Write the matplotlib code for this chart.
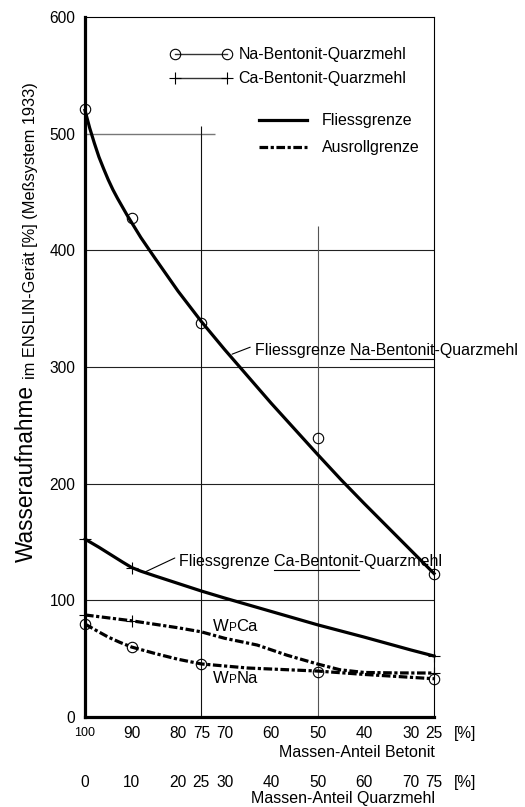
import numpy as np
import matplotlib
matplotlib.use("Agg")
import matplotlib.pyplot as plt
from matplotlib.lines import Line2D

plt.rcParams['font.family'] = ['Liberation Sans', 'DejaVu Sans']

# Quarzmehl share [%] and water uptake [%] of the measured samples
quarz_pts = [0, 10, 25, 50, 75]
na_fliess_pts = [521, 428, 338, 239, 122.5]
na_roll_pts = [79.7, 60, 45.5, 38.6, 32.6]
ca_pts_x = [0, 10, 75]
ca_fliess_pts = [152.5, 128, 52.3]
ca_roll_pts = [87.5, 82.5, 37.7]

# hand-drawn trend curves through the measurements
na_fliess_x = [0, 1, 2, 3, 4, 5, 6, 7, 8, 9, 10, 12, 15, 20, 25, 30, 35, 40, 45, 50, 55, 60, 65, 70, 75]
na_fliess_y = [520, 505, 492, 480, 470, 460.5, 452, 444.5, 437.5, 430.5, 424, 411, 393.5, 365, 339,
               315, 292, 269, 247, 225, 203.5, 183, 163, 143, 123]
ca_fliess_x = [0, 3, 6, 8, 10, 12, 15, 20, 25, 30, 40, 50, 60, 70, 75]
ca_fliess_y = [152.5, 145.5, 138, 133, 128.2, 125, 121, 114.5, 108, 102, 90.5, 79, 68.5, 57.5, 52.3]
ca_roll_x = [0, 5, 10, 15, 20, 25, 30, 37, 43.4, 50, 54.8, 60, 67, 75]
ca_roll_y = [87.5, 85, 82.5, 79.5, 76.5, 73, 67.5, 61.7, 53, 45.4, 40.5, 38.2, 37.8, 37.7]
na_roll_x = [0, 2.5, 5, 7.5, 10, 15, 20, 25, 35, 50, 60, 75]
na_roll_y = [79.7, 74, 68.5, 64, 60, 54.5, 49.5, 45.5, 42, 39.4, 36.5, 32.8]

y_ticks = [0, 100, 200, 300, 400, 500, 600]
quarz_ticks = [0, 10, 20, 25, 30, 40, 50, 60, 70, 75]
beton_ticks = [100 - q for q in quarz_ticks]

dashdot = (0, (2.7, 0.8, 1.0, 0.8))
fs = 11.5

fig = plt.figure(figsize=(5.25, 8.07), dpi=100)
ax = fig.add_axes([0.1619, 0.1115, 0.6648, 0.8674])
ax.set_xlim(0, 75)
ax.set_ylim(0, 600)

for side in ['left', 'bottom']:
    ax.spines[side].set_linewidth(2.3)
for side in ['top', 'right']:
    ax.spines[side].set_linewidth(0.8)

ax.set_yticks(y_ticks)
ax.set_yticklabels([str(v) for v in y_ticks], fontsize=11.2)
ax.tick_params(axis='y', length=0, pad=7)
ax.set_xticks([])

# grid
for v in [100, 200, 300, 400]:
    ax.axhline(v, color='#222222', lw=0.8, zorder=1)
ax.hlines(500, 0, 28, color='#777777', lw=1.0, zorder=1)
ax.vlines(25, 0, 507, color='#111111', lw=0.8, zorder=1)
ax.vlines(50, 0, 421, color='#555555', lw=0.8, zorder=1)

# curves
ax.plot(na_fliess_x, na_fliess_y, color='k', lw=2.3, solid_joinstyle='round', clip_on=False, zorder=3)
ax.plot(ca_fliess_x, ca_fliess_y, color='k', lw=2.3, solid_joinstyle='round', clip_on=False, zorder=3)
ax.plot(ca_roll_x, ca_roll_y, color='k', lw=2.3, ls=dashdot, clip_on=False, zorder=3)
ax.plot(na_roll_x, na_roll_y, color='k', lw=2.3, ls=dashdot, clip_on=False, zorder=3)

# measured points
ax.plot(quarz_pts, na_fliess_pts, 'o', ms=7.5, mfc='none', mec='k', mew=0.8, clip_on=False, zorder=4)
ax.plot(quarz_pts, na_roll_pts, 'o', ms=7.5, mfc='none', mec='k', mew=0.8, clip_on=False, zorder=4)
ax.plot(ca_pts_x, ca_fliess_pts, '+', ms=8, mec='k', mew=0.8, clip_on=False, zorder=4)
ax.plot(ca_pts_x, ca_roll_pts, '+', ms=8, mec='k', mew=0.8, clip_on=False, zorder=4)

# legends
h_na = Line2D([], [], color='#333333', lw=1.0, marker='o', ms=7.5, mfc='none', mec='k', mew=0.8)
h_ca = Line2D([], [], color='#333333', lw=1.0, marker='+', ms=8, mec='k', mew=0.8)
leg1 = ax.legend([h_na, h_ca], ['Na-Bentonit-Quarzmehl', 'Ca-Bentonit-Quarzmehl'],
                 loc='upper left', bbox_to_anchor=(0.2436, 0.9567), numpoints=2,
                 frameon=False, fontsize=fs, handlelength=3.85, handletextpad=0.43,
                 labelspacing=0.56, borderaxespad=0, borderpad=0)
ax.add_artist(leg1)
h_fl = Line2D([], [], color='k', lw=2.3)
h_ro = Line2D([], [], color='k', lw=2.3, ls=dashdot)
ax.legend([h_fl, h_ro], ['Fliessgrenze', 'Ausrollgrenze'],
          loc='upper left', bbox_to_anchor=(0.4986, 0.8627), numpoints=1,
          frameon=False, fontsize=fs, handlelength=2.98, handletextpad=0.93,
          labelspacing=0.75, borderaxespad=0, borderpad=0)

renderer = fig.canvas.get_renderer()


def underline(txt, head, part):
    # draw a line under `part`, which follows `head` inside txt
    bb = txt.get_window_extent(renderer)
    fp = txt.get_fontproperties()

    def width(s):
        tmp = ax.text(0, 0, s, fontproperties=fp)
        w = tmp.get_window_extent(renderer).width
        tmp.remove()
        return w

    x1 = bb.x0 + width(head + part)
    x0 = x1 - width(part)
    y = bb.y0 - 1
    (fx0, fy), (fx1, _) = fig.transFigure.inverted().transform([(x0, y), (x1, y)])
    fig.add_artist(Line2D([fx0, fx1], [fy, fy], color='k', lw=0.8))


# curve labels with leader lines
t_na = ax.text(36.5, 314, 'Fliessgrenze Na-Bentonit-Quarzmehl', fontsize=fs, va='center', ha='left')
underline(t_na, 'Fliessgrenze ', 'Na-Bentonit')
ax.annotate('', xy=(31.6, 311), xytext=(35.5, 317),
            arrowprops=dict(arrowstyle='-', color='k', lw=0.8, shrinkA=0, shrinkB=0))

t_ca = ax.text(20.2, 133, 'Fliessgrenze Ca-Bentonit-Quarzmehl', fontsize=fs, va='center', ha='left')
underline(t_ca, 'Fliessgrenze ', 'Ca-Bentonit')
ax.annotate('', xy=(12.9, 124.3), xytext=(19.3, 136.3),
            arrowprops=dict(arrowstyle='-', color='k', lw=0.8, shrinkA=0, shrinkB=0))


def wp_label(x, y, tail):
    w = ax.text(x, y, 'W', fontsize=12, va='baseline', ha='left')
    p = ax.annotate('P', xy=(1, 0), xycoords=w, fontsize=8.4, va='bottom', ha='left')
    ax.annotate(tail, xy=(1, 0), xycoords=p, fontsize=12, va='bottom', ha='left')


wp_label(27.5, 73.5, 'Ca')
wp_label(27.5, 29.5, 'Na')

# two rows of x tick labels
xt = ax.get_xaxis_transform()
for q, b in zip(quarz_ticks, beton_ticks):
    ax.text(q, -0.0229, str(b), transform=xt, ha='center', va='center',
            fontsize=9 if b == 100 else 11.2)
    ax.text(q, -0.0929, str(q), transform=xt, ha='center', va='center', fontsize=11.2)
ax.text(81.7, -0.0229, '[%]', transform=xt, ha='center', va='center', fontsize=11.2, clip_on=False)
ax.text(81.7, -0.0929, '[%]', transform=xt, ha='center', va='center', fontsize=11.2, clip_on=False)
ax.text(75.2, -0.0514, 'Massen-Anteil Betonit', transform=xt, ha='right', va='center', fontsize=fs)
ax.text(75.2, -0.1157, 'Massen-Anteil Quarzmehl', transform=xt, ha='right', va='center', fontsize=fs)

# y axis title in two sizes
y1 = fig.text(0.072, 0.3036, 'Wasseraufnahme', rotation=90, ha='right', va='bottom', fontsize=16.3)
ax.annotate('im ENSLIN-Gerät [%] (Meßsystem 1933)', xy=(1, 1), xycoords=y1,
            xytext=(0, 4), textcoords='offset points',
            rotation=90, ha='right', va='bottom', fontsize=11.8)

fig.savefig('out.png', dpi=100)
